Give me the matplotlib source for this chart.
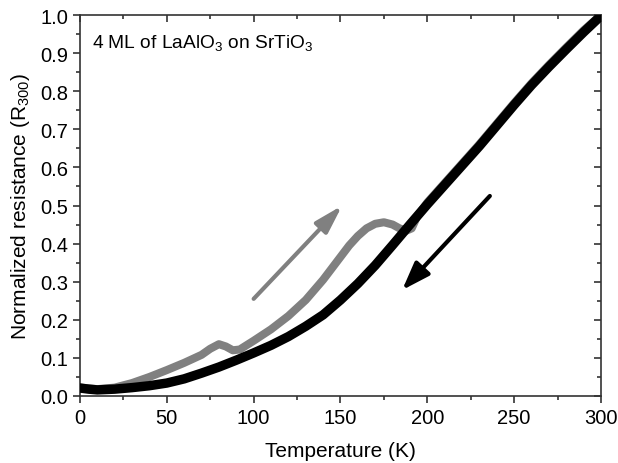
import matplotlib
matplotlib.use("Agg")
from matplotlib import pyplot as plt
from matplotlib.ticker import MultipleLocator, FormatStrFormatter

plt.rcParams['font.family'] = ['Liberation Sans', 'DejaVu Sans']
plt.rcParams['mathtext.fontset'] = 'custom'
plt.rcParams['mathtext.rm'] = 'Liberation Sans'

# cooling curve (black)
t_cool = [0, 5, 10, 20, 30, 40, 50, 60, 70, 80, 90, 100, 110, 120, 130, 140,
          150, 160, 170, 180, 190, 200, 210, 220, 230, 240, 250, 260, 270,
          280, 290, 300]
r_cool = [0.021, 0.018, 0.016, 0.018, 0.022, 0.027, 0.034, 0.045, 0.060,
          0.076, 0.094, 0.113, 0.133, 0.156, 0.183, 0.213, 0.252, 0.295,
          0.343, 0.396, 0.450, 0.503, 0.554, 0.605, 0.656, 0.710, 0.764,
          0.816, 0.864, 0.910, 0.955, 0.998]

# warming curve (grey)
t_warm = [0, 10, 20, 30, 40, 50, 60, 70, 75, 80, 84, 88, 92, 100, 110, 120,
          130, 140, 150, 155, 160, 165, 170, 175, 180, 184, 188, 191, 194,
          200, 210, 220, 230, 240, 250, 260, 270, 280, 290, 300]
r_warm = [0.022, 0.018, 0.022, 0.034, 0.050, 0.068, 0.087, 0.108, 0.124,
          0.136, 0.130, 0.120, 0.122, 0.145, 0.175, 0.210, 0.252, 0.305,
          0.365, 0.395, 0.420, 0.440, 0.452, 0.456, 0.450, 0.440, 0.434,
          0.440, 0.470, 0.508, 0.559, 0.610, 0.661, 0.715, 0.769, 0.821,
          0.869, 0.915, 0.960, 1.0]

fig = plt.figure(figsize=(6.18, 4.64), dpi=100)
ax = fig.add_axes([0.1294, 0.1444, 0.8431, 0.8211])

ax.plot(t_warm, r_warm, color='#808080', lw=5.8, solid_capstyle='butt',
        solid_joinstyle='round', zorder=2)
ax.plot(t_cool, r_cool, color='black', lw=6.8, solid_capstyle='round',
        solid_joinstyle='round', zorder=3)

# direction arrows
ax.annotate('', xy=(151, 0.50), xytext=(100, 0.255),
            arrowprops=dict(arrowstyle='-|>,head_length=0.85,head_width=0.25',
                            mutation_scale=20, color='#808080', lw=3,
                            shrinkA=0, shrinkB=0))
ax.annotate('', xy=(185.5, 0.278), xytext=(236, 0.525),
            arrowprops=dict(arrowstyle='-|>,head_length=0.85,head_width=0.3',
                            mutation_scale=20, color='black', lw=3,
                            shrinkA=0, shrinkB=0))

ax.text(7, 0.927, r'4 ML of LaAlO$_3$ on SrTiO$_3$', fontsize=13.8,
        va='center', ha='left')

ax.set_xlim(0, 300)
ax.set_ylim(0, 1.0)
ax.xaxis.set_major_locator(MultipleLocator(50))
ax.xaxis.set_minor_locator(MultipleLocator(25))
ax.yaxis.set_major_locator(MultipleLocator(0.1))
ax.yaxis.set_minor_locator(MultipleLocator(0.05))
ax.yaxis.set_major_formatter(FormatStrFormatter('%.1f'))

for side in ['left', 'right', 'top', 'bottom']:
    ax.spines[side].set_linewidth(1.2)
    ax.spines[side].set_color('#333333')
ax.tick_params(which='both', direction='out', top=False, right=False,
               width=1.2, color='#333333', labelsize=14.5)
ax.tick_params(which='major', length=5)
ax.tick_params(which='minor', length=3)

# mirrored ticks pointing inward on top and right
ax_top = ax.secondary_xaxis('top')
ax_top.xaxis.set_major_locator(MultipleLocator(50))
ax_top.xaxis.set_minor_locator(MultipleLocator(25))
ax_top.tick_params(which='both', direction='in', labeltop=False, width=1.2,
                   color='#333333')
ax_top.tick_params(which='major', length=5)
ax_top.tick_params(which='minor', length=3)
ax_top.spines['top'].set_visible(False)
ax_right = ax.secondary_yaxis('right')
ax_right.yaxis.set_major_locator(MultipleLocator(0.1))
ax_right.yaxis.set_minor_locator(MultipleLocator(0.05))
ax_right.tick_params(which='both', direction='in', labelright=False,
                     width=1.2, color='#333333')
ax_right.tick_params(which='major', length=5)
ax_right.tick_params(which='minor', length=3)
ax_right.spines['right'].set_visible(False)

ax.set_xlabel('Temperature (K)', fontsize=15, labelpad=10)
ax.set_ylabel(r'Normalized resistance (R$_{300}$)', fontsize=15, labelpad=6)

fig.savefig('out.png', dpi=100)
